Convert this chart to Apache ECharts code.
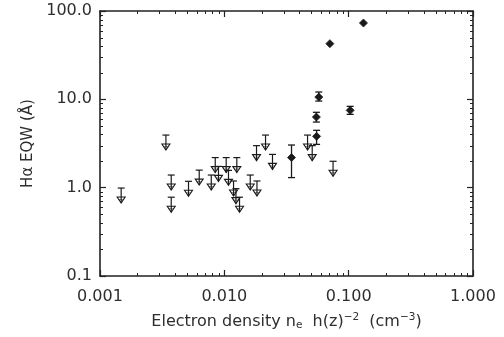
<!DOCTYPE html>
<html><head><meta charset="utf-8">
<script src="https://cdn.jsdelivr.net/npm/echarts@6/dist/echarts.min.js"></script>
<style>html,body{margin:0;padding:0;background:#fff}#c{width:504px;height:337px}</style>
</head><body><div id="c"></div>
<script>
// ---- data ----
const xTickLabels = ['0.001', '0.010', '0.100', '1.000'];
const yTickLabels = ['0.1', '1.0', '10.0', '100.0'];

// upper limits (value at the cap of the arrow)
const limX = [0.00148, 0.00339, 0.00374, 0.00374, 0.00515, 0.00628, 0.00785, 0.00845, 0.00897, 0.01035, 0.0108, 0.01186,
              0.0124, 0.0126, 0.01325, 0.01616, 0.01815, 0.0183, 0.02145, 0.0244, 0.0467, 0.0509, 0.0749];
const limY = [0.99, 3.94, 1.39, 0.78, 1.18, 1.58, 1.39, 2.19, 1.74, 2.19, 1.57, 1.19,
              0.975, 2.19, 0.78, 1.39, 2.99, 1.19, 3.94, 2.38, 3.94, 2.99, 1.99];

// detections with error bars
const detX  = [0.1315, 0.0706, 0.0575, 0.1028, 0.0550, 0.0552, 0.0347];
const detY  = [73.1, 42.7, 10.6, 7.5, 6.3, 3.81, 2.19];
const detLo = [null, null, 9.56, 6.76, 5.53, 3.09, 1.30];
const detHi = [null, null, 12.1, 8.33, 7.13, 4.46, 3.04];

// minor tick multipliers per decade
const minorMult = [2, 3, 4, 5, 6, 7, 8, 9];
const xDecades = [0.001, 0.01, 0.1];
const yDecades = [0.1, 1, 10];

const FONT = '"DejaVu Sans", Verdana, sans-serif';
const INK = '#1a1a1a';
const TXT = '#2e2e2e';
const AX = '#222';

const chart = echarts.init(document.getElementById('c'), null, {renderer: 'canvas'});

function xLab(v) { return xTickLabels[Math.round(Math.log10(v)) + 3] || ''; }
function yLab(v) { return yTickLabels[Math.round(Math.log10(v)) + 1] || ''; }

const axLine = {show: true, onZero: false, lineStyle: {color: AX, width: 1.6}};
const axTick = {show: true, inside: true, length: 6, lineStyle: {color: AX, width: 1.2}};

const limData = limX.map((x, i) => [x, limY[i]]);
const detData = detX.map((x, i) => [x, detY[i], detLo[i] == null ? detY[i] : detLo[i], detHi[i] == null ? detY[i] : detHi[i]]);

const minorX = [];
xDecades.forEach(d => minorMult.forEach(m => minorX.push(d * m)));
const minorY = [];
yDecades.forEach(d => minorMult.forEach(m => minorY.push(d * m)));

const option = {
  backgroundColor: '#fff',
  animation: false,
  grid: {left: 100, right: 31, top: 11, bottom: 61, containLabel: false},
  xAxis: [{
    type: 'log', logBase: 10, min: 0.001, max: 1, position: 'bottom',
    axisLine: axLine, axisTick: axTick, splitLine: {show: false}, minorTick: {show: false},
    axisLabel: {margin: 13, fontSize: 16, fontFamily: FONT, color: TXT, formatter: xLab},
    name: 'Electron density n{sub|e}  h(z){sup|−2}  (cm{sup|−3})',
    nameLocation: 'middle', nameGap: 36,
    nameTextStyle: {
      fontSize: 16, fontFamily: FONT, color: TXT,
      rich: {
        sub: {fontSize: 10.5, fontFamily: FONT, color: TXT, padding: [7, 0, 0, 0]},
        sup: {fontSize: 10.5, fontFamily: FONT, color: TXT, padding: [0, 0, 9, 0]}
      }
    }
  }, {
    type: 'log', logBase: 10, min: 0.001, max: 1, position: 'top',
    axisLine: axLine, axisTick: axTick, splitLine: {show: false},
    axisLabel: {show: false}
  }],
  yAxis: [{
    type: 'log', logBase: 10, min: 0.1, max: 100, position: 'left',
    axisLine: axLine, axisTick: axTick, splitLine: {show: false},
    axisLabel: {margin: 8, fontSize: 16, fontFamily: FONT, color: TXT, formatter: yLab},
    name: 'Hα EQW (Å)', nameLocation: 'middle', nameGap: 62, nameRotate: 90,
    nameTextStyle: {fontSize: 15, fontFamily: FONT, color: TXT}
  }, {
    type: 'log', logBase: 10, min: 0.1, max: 100, position: 'right',
    axisLine: axLine, axisTick: axTick, splitLine: {show: false},
    axisLabel: {show: false}
  }],
  series: [{
    // minor ticks on all four sides
    type: 'custom', coordinateSystem: 'cartesian2d', xAxisIndex: 0, yAxisIndex: 0,
    data: [[0.01, 1]], silent: true, clip: false, z: 5,
    renderItem: function (params, api) {
      const cs = params.coordSys;
      const st = {stroke: AX, lineWidth: 1};
      const ch = [];
      minorX.forEach(v => {
        const px = Math.round(api.coord([v, 1])[0]) + 0.5;
        ch.push({type: 'line', shape: {x1: px, y1: cs.y + cs.height, x2: px, y2: cs.y + cs.height - 3}, style: st});
        ch.push({type: 'line', shape: {x1: px, y1: cs.y, x2: px, y2: cs.y + 3}, style: st});
      });
      minorY.forEach(v => {
        const py = Math.round(api.coord([0.01, v])[1]) + 0.5;
        ch.push({type: 'line', shape: {x1: cs.x, y1: py, x2: cs.x + 3, y2: py}, style: st});
        ch.push({type: 'line', shape: {x1: cs.x + cs.width, y1: py, x2: cs.x + cs.width - 3, y2: py}, style: st});
      });
      return {type: 'group', children: ch};
    }
  }, {
    // upper limits: cap, stem and open down-triangle
    type: 'custom', coordinateSystem: 'cartesian2d', xAxisIndex: 0, yAxisIndex: 0,
    data: limData, clip: false, z: 10,
    renderItem: function (params, api) {
      const p = api.coord([api.value(0), api.value(1)]);
      const x = p[0], y = p[1];
      const s = {stroke: INK, lineWidth: 1.2, fill: null};
      return {type: 'group', children: [
        {type: 'line', shape: {x1: x - 3.5, y1: y, x2: x + 3.5, y2: y}, style: s},
        {type: 'line', shape: {x1: x, y1: y, x2: x, y2: y + 15}, style: s},
        {type: 'polygon', shape: {points: [[x - 4, y + 9], [x + 4, y + 9], [x, y + 15]]},
         style: {stroke: INK, lineWidth: 1.1, fill: 'rgba(0,0,0,0)'}},
        {type: 'line', shape: {x1: x - 2.5, y1: y + 11.5, x2: x + 2.5, y2: y + 11.5}, style: {stroke: INK, lineWidth: 0.8, opacity: 0.6}}
      ]};
    }
  }, {
    // detections: filled diamond with error bars
    type: 'custom', coordinateSystem: 'cartesian2d', xAxisIndex: 0, yAxisIndex: 0,
    data: detData, clip: false, z: 11,
    renderItem: function (params, api) {
      const xv = api.value(0);
      const p = api.coord([xv, api.value(1)]);
      const lo = api.coord([xv, api.value(2)]);
      const hi = api.coord([xv, api.value(3)]);
      const s = {stroke: INK, lineWidth: 1.3};
      const ch = [];
      if (lo[1] - hi[1] > 1) {
        ch.push({type: 'line', shape: {x1: p[0], y1: hi[1], x2: p[0], y2: lo[1]}, style: s});
        ch.push({type: 'line', shape: {x1: p[0] - 3.5, y1: hi[1], x2: p[0] + 3.5, y2: hi[1]}, style: s});
        ch.push({type: 'line', shape: {x1: p[0] - 3.5, y1: lo[1], x2: p[0] + 3.5, y2: lo[1]}, style: s});
      }
      const r = 4;
      ch.push({type: 'polygon', shape: {points: [[p[0], p[1] - r], [p[0] + r, p[1]], [p[0], p[1] + r], [p[0] - r, p[1]]]},
               style: {fill: INK, stroke: INK, lineWidth: 0.8}});
      return {type: 'group', children: ch};
    }
  }]
};
chart.setOption(option);
</script>
</body></html>
